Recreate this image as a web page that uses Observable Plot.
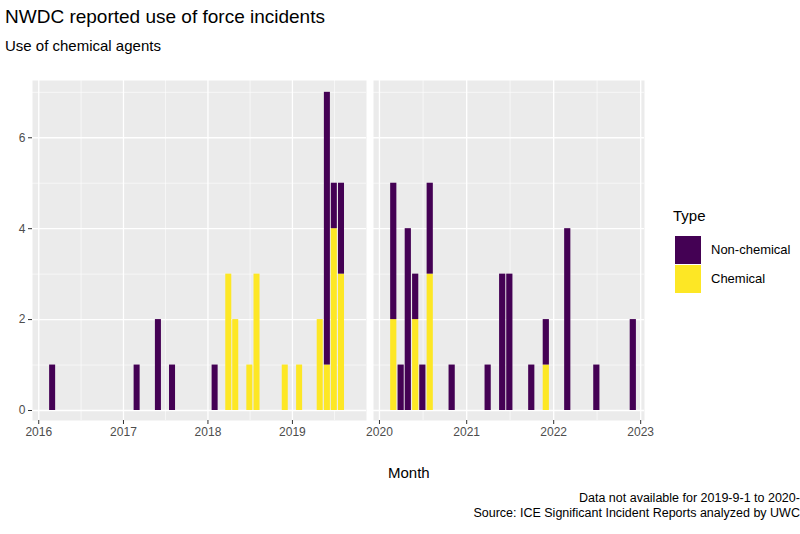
<!DOCTYPE html>
<html><head><meta charset="utf-8">
<script src="https://cdn.jsdelivr.net/npm/d3@7"></script>
<script src="https://cdn.jsdelivr.net/npm/@observablehq/plot@0.6"></script>
<style>
body{margin:0;width:800px;height:534px;overflow:hidden;position:relative;background:#fff;font-family:"Liberation Sans",Arial,sans-serif;}
.abs{position:absolute;white-space:nowrap;}
</style></head><body>
<div class="abs" style="left:5px;top:6px;font-size:19px;color:#000">NWDC reported use of force incidents</div>
<div class="abs" style="left:5px;top:37px;font-size:15px;color:#000">Use of chemical agents</div>
<div id="p1" class="abs" style="left:0;top:75px"></div>
<div id="p2" class="abs" style="left:366px;top:75px"></div>
<div class="abs" style="left:388px;top:464px;font-size:15px">Month</div>
<div class="abs" style="left:0;width:818px;top:491px;text-align:right;font-size:12.5px;line-height:15px">Data not available for 2019-9-1 to 2020-2-1<br>Source: ICE Significant Incident Reports analyzed by UWCHR</div>
<div class="abs" style="left:673px;top:207px;font-size:15px">Type</div>
<div class="abs" style="left:675px;top:236px;width:26px;height:28px;background:#440154"></div>
<div class="abs" style="left:675px;top:265px;width:26px;height:28px;background:#FDE725"></div>
<div class="abs" style="left:711px;top:242px;font-size:13px">Non-chemical</div>
<div class="abs" style="left:711px;top:271px;font-size:13px">Chemical</div>
<script>
const months1 = ["2016-03","2017-03","2017-06","2017-08","2018-02","2018-04","2018-05","2018-07","2018-08","2018-12","2019-02","2019-05","2019-06","2019-07","2019-08"];
const chem1 =   [0,0,0,0,0,3,2,1,3,1,1,2,1,4,3];
const non1 =    [1,1,2,1,1,0,0,0,0,0,0,0,6,1,2];
const months2 = ["2020-03","2020-04","2020-05","2020-06","2020-07","2020-08","2020-11","2021-04","2021-06","2021-07","2021-10","2021-12","2022-03","2022-07","2022-12"];
const chem2 =   [2,0,0,2,0,3,0,0,0,0,0,1,0,0,0];
const non2 =    [3,1,4,1,1,2,1,1,3,3,1,1,4,1,2];
const yTicks = [0,2,4,6];
const yMinor = [1,3,5,7];
const colors = {"Non-chemical":"#440154","Chemical":"#FDE725"};

function rows(months, chem, non){
  const out=[];
  months.forEach((m,i)=>{
    const d=new Date(m+"-01T00:00:00Z");
    const a=d3.utcDay.offset(d,-13), b=d3.utcDay.offset(d,13);
    if(chem[i]>0) out.push({x1:a,x2:b,y1:0,y2:chem[i],t:"Chemical"});
    if(non[i]>0) out.push({x1:a,x2:b,y1:chem[i],y2:chem[i]+non[i],t:"Non-chemical"});
  });
  return out;
}
function panel(data, domain, years, width, ml, mr, showY){
  const d=y=>new Date(Date.UTC(y,0,1));
  const major=years.map(d);
  const minor=years.map(y=>new Date(Date.UTC(y,6,2))).filter(v=>v>domain[0]&&v<domain[1]);
  const marks=[
    Plot.frame({fill:"#EBEBEB",stroke:null}),
    Plot.ruleY(yMinor,{stroke:"#fff",strokeWidth:0.6}),
    Plot.ruleX(minor,{stroke:"#fff",strokeWidth:0.6}),
    Plot.ruleY(yTicks,{stroke:"#fff",strokeWidth:1.3}),
    Plot.ruleX(major,{stroke:"#fff",strokeWidth:1.3}),
    Plot.rect(data,{x1:"x1",x2:"x2",y1:"y1",y2:"y2",fill:d=>colors[d.t]}),
    Plot.axisX(major,{tickFormat:v=>String(v.getUTCFullYear()),tickSize:4,stroke:"#333",fill:"#4d4d4d",fontSize:12,tickPadding:3})
  ];
  if(showY) marks.push(Plot.axisY(yTicks,{tickSize:4,stroke:"#333",fill:"#4d4d4d",fontSize:12,tickPadding:3}));
  return Plot.plot({width,height:380,marginLeft:ml,marginRight:mr,marginTop:5,marginBottom:35,
    x:{type:"utc",domain},y:{domain:[-0.22,7.26],axis:null},style:{fontFamily:"Liberation Sans, Arial, sans-serif",background:"transparent",overflow:"visible"},marks});
}
document.getElementById("p1").append(panel(rows(months1,chem1,non1),[new Date(Date.UTC(2015,11,5)),new Date(Date.UTC(2019,10,17))],[2016,2017,2018,2019],366,32,0,true));
document.getElementById("p2").append(panel(rows(months2,chem2,non2),[new Date(Date.UTC(2019,11,7)),new Date(Date.UTC(2023,0,17))],[2020,2021,2022,2023],292,7,14,false));
</script></body></html>
